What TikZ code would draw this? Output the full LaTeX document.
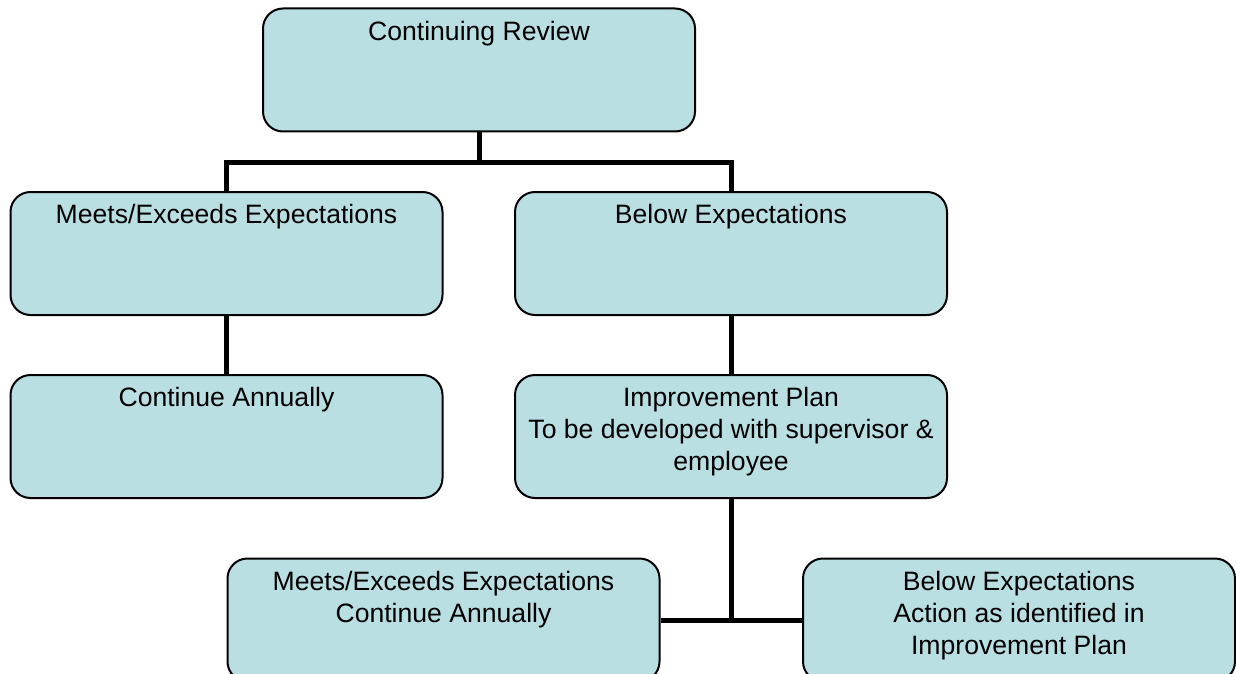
\documentclass[tikz,border=0pt]{standalone}
\usepackage{fontspec}
\setmainfont{Liberation Sans}
\usetikzlibrary{positioning}
\definecolor{boxblue}{RGB}{185,223,227}

\begin{document}
\begin{tikzpicture}[x=0.5pt,y=-0.5pt,
    stage/.style={draw=black,line width=1pt,fill=boxblue,rounded corners=10pt,
                  minimum width=216pt,minimum height=61.5pt,inner sep=0pt},
    caption/.style={align=center,inner sep=0pt,font=\fontsize{13.3}{16}\selectfont},
    link/.style={line width=2.5pt}]
  \useasboundingbox (0,0) rectangle (1236,674);
  \clip (0,0) rectangle (1236,674);

  % boxes
  \node[stage] (review) at (479,70) {};
  \node[stage] (meets) at (226.5,253.5) {};
  \node[stage] (belowexp) at (731,253.5) {};
  \node[stage] (annual) at (226.5,436.5) {};
  \node[stage] (plan) at (731,436.5) {};
  \node[stage] (meetsagain) at (443.5,620) {};
  \node[stage] (action) at (1019,620) {};

  % texts sit at the top of each box
  \node[caption,below=6.5pt of review.north] (reviewtext) {Continuing Review};
  \node[caption,below=6.5pt of meets.north] (meetstext) {Meets/Exceeds Expectations};
  \node[caption,below=6.5pt of belowexp.north] (belowtext) {Below Expectations};
  \node[caption,below=6.5pt of annual.north] (annualtext) {Continue Annually};
  \node[caption,below=6.5pt of plan.north] (plantext)
    {Improvement Plan\\To be developed with supervisor \&\\employee};
  \node[caption,below=6.5pt of meetsagain.north] (meetsagaintext)
    {Meets/Exceeds Expectations\\Continue Annually};
  \node[caption,below=6.5pt of action.north] (actiontext)
    {Below Expectations\\Action as identified in\\Improvement Plan};

  % connectors
  \coordinate (split) at (479,162);
  \coordinate (join) at (plan.south |- meetsagain.east);
  \draw[link] (review.south) -- (split);
  \draw[link] (meets.north) |- (split) -| (belowexp.north);
  \draw[link] (meets.south) -- (annual.north);
  \draw[link] (belowexp.south) -- (plan.north);
  \draw[link] (plan.south) -- (join);
  \draw[link] (meetsagain.east) -- (action.west);
\end{tikzpicture}
\end{document}
